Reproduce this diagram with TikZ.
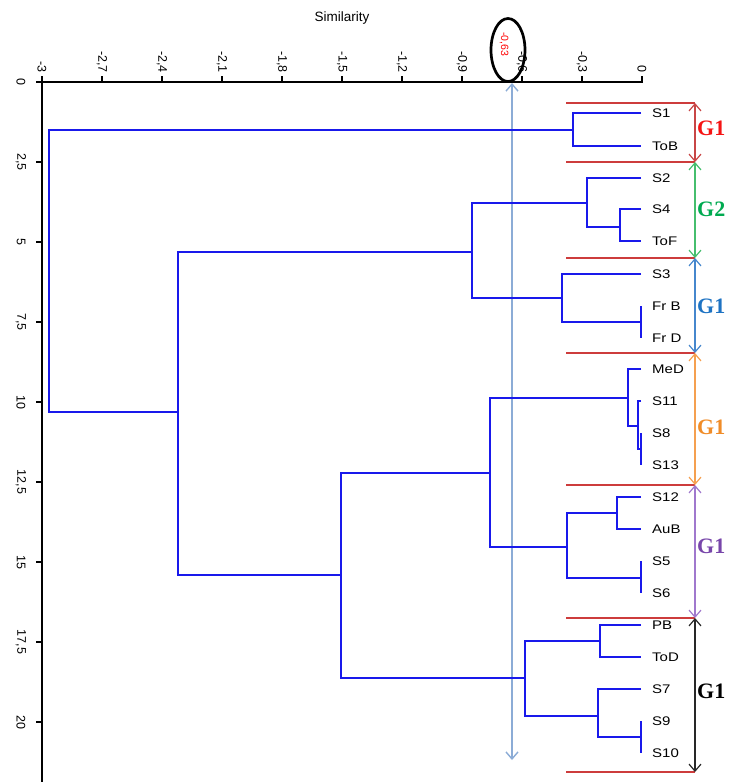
\documentclass[tikz,border=0pt]{standalone}
\usepackage{fontspec}
\setmainfont{Liberation Sans}
\newfontfamily\gfont{Liberation Serif}
\usetikzlibrary{arrows.meta,shapes.geometric}

\definecolor{dendro}{RGB}{25,25,235}
\definecolor{sepred}{RGB}{205,60,60}
\definecolor{cutblue}{RGB}{140,172,214}
\definecolor{gred}{RGB}{245,20,20}
\definecolor{ggreen}{RGB}{0,170,80}
\definecolor{gblue}{RGB}{30,115,195}
\definecolor{gorange}{RGB}{240,140,40}
\definecolor{gpurple}{RGB}{120,70,170}
\definecolor{ablack}{RGB}{40,40,40}
\definecolor{ared}{RGB}{200,70,70}
\definecolor{agreen}{RGB}{70,190,110}
\definecolor{ablue}{RGB}{70,135,205}
\definecolor{aorange}{RGB}{245,160,80}
\definecolor{apurple}{RGB}{160,120,205}

\tikzset{
  axisline/.style={line width=1.8pt, black},
  tlab/.style={rotate=-90, anchor=east, inner sep=0pt, font=\fontsize{12.5}{12.5}\selectfont},
  llab/.style={rotate=-90, inner sep=0pt, font=\fontsize{12.5}{12.5}\selectfont},
  leaf/.style={anchor=west, inner xsep=11pt, inner ysep=0pt, font=\fontsize{12.5}{12.5}\selectfont},
  link/.style={dendro, line width=1.9pt},
  sepline/.style={sepred, line width=2.4pt},
  grparrow/.style={line width=1.2pt, {Straight Barb[length=7pt,width=12pt]}-{Straight Barb[length=7pt,width=12pt]}},
  glab/.style={anchor=west, inner sep=0pt, font=\gfont\bfseries\fontsize{22}{22}\selectfont},
}

\newcommand{\lf}[1]{\scalebox{1.2}[1]{#1}}

\begin{document}
\begin{tikzpicture}[x=1pt,y=-1pt]
\useasboundingbox (0,0) rectangle (729,782);

% axes
\draw[axisline] (36,82) -- (643,82);
\draw[axisline] (42,76) -- (42,782);
\foreach \x/\t [count=\i] in {42/-3,102/{-2,7},162/{-2,4},222/{-2,1},282/{-1,8},342/{-1,5},402/{-1,2},462/{-0,9},522/{-0,6},582/{-0,3},642/0}{
  \draw[axisline] (\x,76) -- (\x,82);
  \node[tlab] (tx\i) at (\x,73) {\t};
}
\foreach \y/\t [count=\i] in {82/0,162/{2,5},242/5,322/{7,5},402/10,482/{12,5},562/15,642/{17,5},722/20}{
  \draw[axisline] (36,\y) -- (42,\y);
  \node[llab] (ty\i) at (21,\y) {\t};
}
\node[font=\fontsize{13.5}{13.5}\selectfont] (title) at (342,18) {Similarity};

% cut level
\node[draw, ellipse, line width=2.7pt, minimum width=34pt, minimum height=63pt, inner sep=0pt] (cut) at (508,50) {};
\node[rotate=-90, text=red, inner sep=0pt, font=\fontsize{10.5}{10.5}\selectfont] (cutlab) at (504,44) {-0,63};
\coordinate (cuttop) at (512,83);
\coordinate (cutbot) at (512,760);
\draw[cutblue, line width=1.4pt, {Straight Barb[length=7pt,width=12pt]}-{Straight Barb[length=7pt,width=12pt]}] (cuttop) -- (cutbot);

% leaves
\foreach \n/\y/\t in {S1/113/S1, ToB/146/ToB, S2/178/S2, S4/209/S4, ToF/241/ToF, S3/274/S3, FrB/306/Fr B, FrD/338/Fr D, MeD/369/MeD, S11/401/S11, S8/433/S8, S13/465/S13, S12/497/S12, AuB/529/AuB, S5/561/S5, S6/593/S6, PB/625/PB, ToD/657/ToD, S7/689/S7, S9/721/S9, S10/753/S10}{
  \node[leaf] (\n) at (641,\y) {\lf{\t}};
}

% merge points
\coordinate (a) at (573,130);
\coordinate (root) at (49,270);
\coordinate (b) at (178,412);
\coordinate (c) at (472,252);
\coordinate (d) at (587,203);
\coordinate (e) at (620,227);
\coordinate (f) at (562,298);
\coordinate (g) at (641,322);
\coordinate (h) at (341,575);
\coordinate (i) at (490,473);
\coordinate (j) at (628,398);
\coordinate (k) at (638,426);
\coordinate (l) at (641,449);
\coordinate (m) at (567,547);
\coordinate (n) at (617,513);
\coordinate (o) at (641,578);
\coordinate (p) at (525,678);
\coordinate (q) at (600,641);
\coordinate (r) at (598,716);
\coordinate (s) at (641,737);

% dendrogram
\draw[link] (S1.west) -| (a) |- (ToB.west);
\draw[link] (a) -| (root) |- (b);
\draw[link] (c) -| (b) |- (h);
\draw[link] (d) -| (c) |- (f);
\draw[link] (S2.west) -| (d) |- (e);
\draw[link] (S4.west) -| (e) |- (ToF.west);
\draw[link] (S3.west) -| (f) |- (g);
\draw[link] (FrB.west) -| (g) |- (FrD.west);
\draw[link] (i) -| (h) |- (p);
\draw[link] (j) -| (i) |- (m);
\draw[link] (MeD.west) -| (j) |- (k);
\draw[link] (S11.west) -| (k) |- (l);
\draw[link] (S8.west) -| (l) |- (S13.west);
\draw[link] (n) -| (m) |- (o);
\draw[link] (S12.west) -| (n) |- (AuB.west);
\draw[link] (S5.west) -| (o) |- (S6.west);
\draw[link] (q) -| (p) |- (r);
\draw[link] (PB.west) -| (q) |- (ToD.west);
\draw[link] (S7.west) -| (r) |- (s);
\draw[link] (S9.west) -| (s) |- (S10.west);

% group boundaries
\foreach \y [count=\i from 0] in {103,162,258,353,485,618,772}{
  \coordinate (t\i) at (695,\y);
  \coordinate (u\i) at (566,\y);
  \draw[sepline] (u\i) -- (t\i);
}

% group arrows and labels
\draw[grparrow, ared] (t0) -- (t1);
\draw[grparrow, agreen] (t1) -- (t2);
\draw[grparrow, ablue] (t2) -- (t3);
\draw[grparrow, aorange] (t3) -- (t4);
\draw[grparrow, apurple] (t4) -- (t5);
\draw[grparrow, ablack] (t5) -- (t6);

\node[glab, text=gred] (g1) at (697,128) {G1};
\node[glab, text=ggreen] (g2) at (697,209) {G2};
\node[glab, text=gblue] (g3) at (697,306) {G1};
\node[glab, text=gorange] (g4) at (697,427) {G1};
\node[glab, text=gpurple] (g5) at (697,546) {G1};
\node[glab, text=black] (g6) at (697,691) {G1};
\end{tikzpicture}
\end{document}
